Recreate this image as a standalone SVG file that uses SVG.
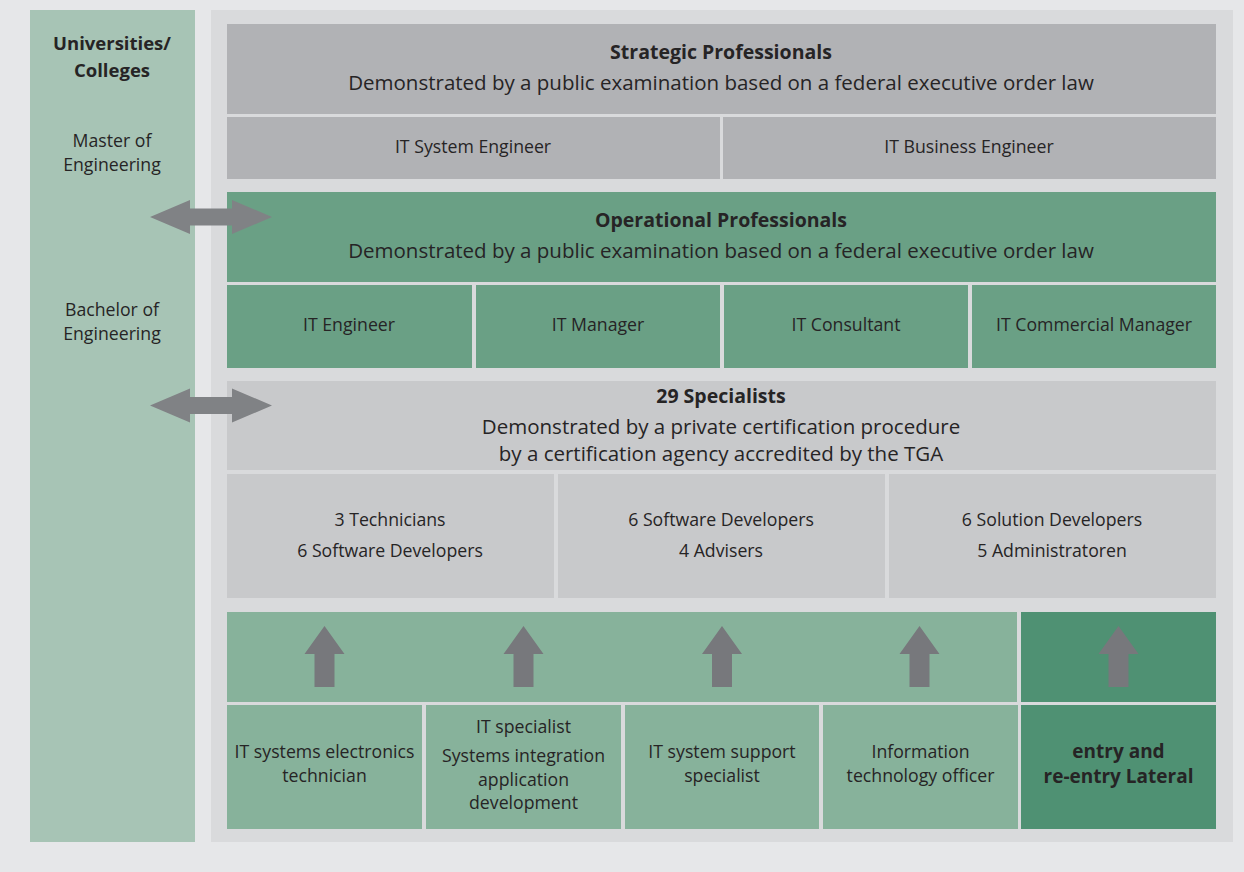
<svg xmlns="http://www.w3.org/2000/svg" width="1244" height="872" viewBox="0 0 1244 872">
  <style>
    .t { font-family: "Open Sans", "Noto Sans", "DejaVu Sans", sans-serif; fill: #262425; text-anchor: middle; }
    .h { font-size: 19.5px; font-weight: bold; }
    .d { font-size: 20.5px; }
    .s { font-size: 17.7px; }
    .b { font-size: 18.5px; font-weight: bold; }
    .bl { font-size: 19px; font-weight: bold; }
    .strat { fill: #b1b2b5; }
    .oper { fill: #6aa085; }
    .spec { fill: #c8c9cb; }
    .train { fill: #87b29b; }
    .lateral { fill: #4f9173; }
    .dbl { fill: #808285; }
    .up { fill: #77787c; }
  </style>
  <defs>
    <!-- upward arrow centred at x=0, tip at y=0 -->
    <path id="uparrow" d="M0,0 L20,28 L10,28 L10,61 L-10,61 L-10,28 L-20,28 Z"/>
    <!-- double horizontal arrow centred on y=0 -->
    <path id="dblarrow" d="M150,0 L190,-17 L190,-8.5 L232,-8.5 L232,-17 L272,0 L232,17 L232,8.5 L190,8.5 L190,17 Z"/>
  </defs>

  <!-- backgrounds -->
  <rect x="0" y="0" width="1244" height="872" fill="#e6e7e9"/>
  <rect x="211" y="10" width="1022" height="832" fill="#d9dadc"/>

  <!-- left column: universities -->
  <g id="universities">
    <rect x="30" y="10" width="165" height="832" fill="#a7c4b5"/>
    <text class="t b" x="112" y="50">Universities/</text>
    <text class="t b" x="112" y="77">Colleges</text>
    <text class="t s" x="112" y="147">Master of</text>
    <text class="t s" x="112" y="171">Engineering</text>
    <text class="t s" x="112" y="316">Bachelor of</text>
    <text class="t s" x="112" y="340">Engineering</text>
  </g>

  <!-- strategic professionals -->
  <g id="strategic">
    <rect class="strat" x="227" y="24" width="989" height="90"/>
    <text class="t h" x="721" y="59">Strategic Professionals</text>
    <text class="t d" x="721" y="90">Demonstrated by a public examination based on a federal executive order law</text>
  </g>
  <g id="it-system-engineer">
    <rect class="strat" x="227" y="117" width="493" height="62"/>
    <text class="t s" x="473" y="153">IT System Engineer</text>
  </g>
  <g id="it-business-engineer">
    <rect class="strat" x="723" y="117" width="493" height="62"/>
    <text class="t s" x="969" y="153">IT Business Engineer</text>
  </g>

  <!-- operational professionals -->
  <g id="operational">
    <rect class="oper" x="227" y="192" width="989" height="90"/>
    <text class="t h" x="721" y="227">Operational Professionals</text>
    <text class="t d" x="721" y="258">Demonstrated by a public examination based on a federal executive order law</text>
  </g>
  <g id="it-engineer">
    <rect class="oper" x="227" y="285" width="245" height="83"/>
    <text class="t s" x="349" y="331">IT Engineer</text>
  </g>
  <g id="it-manager">
    <rect class="oper" x="476" y="285" width="244" height="83"/>
    <text class="t s" x="598" y="331">IT Manager</text>
  </g>
  <g id="it-consultant">
    <rect class="oper" x="724" y="285" width="244" height="83"/>
    <text class="t s" x="846" y="331">IT Consultant</text>
  </g>
  <g id="it-commercial-manager">
    <rect class="oper" x="972" y="285" width="244" height="83"/>
    <text class="t s" x="1094" y="331">IT Commercial Manager</text>
  </g>

  <!-- specialists -->
  <g id="specialists">
    <rect class="spec" x="227" y="381" width="989" height="89"/>
    <text class="t h" x="721" y="403">29 Specialists</text>
    <text class="t d" x="721" y="434">Demonstrated by a private certification procedure</text>
    <text class="t d" x="721" y="461">by a certification agency accredited by the TGA</text>
  </g>
  <g id="spec-group-1">
    <rect class="spec" x="227" y="474" width="327" height="124"/>
    <text class="t s" x="390" y="526">3 Technicians</text>
    <text class="t s" x="390" y="557">6 Software Developers</text>
  </g>
  <g id="spec-group-2">
    <rect class="spec" x="558" y="474" width="327" height="124"/>
    <text class="t s" x="721" y="526">6 Software Developers</text>
    <text class="t s" x="721" y="557">4 Advisers</text>
  </g>
  <g id="spec-group-3">
    <rect class="spec" x="889" y="474" width="327" height="124"/>
    <text class="t s" x="1052" y="526">6 Solution Developers</text>
    <text class="t s" x="1052" y="557">5 Administratoren</text>
  </g>

  <!-- vocational training -->
  <g id="training-band">
    <rect class="train" x="227" y="612" width="790" height="90"/>
  </g>
  <g id="lateral-band">
    <rect class="lateral" x="1021" y="612" width="195" height="90"/>
  </g>
  <g id="it-systems-electronics-technician">
    <rect class="train" x="227" y="705" width="195" height="124"/>
    <text class="t s" x="324.5" y="758">IT systems electronics</text>
    <text class="t s" x="324.5" y="782">technician</text>
  </g>
  <g id="it-specialist">
    <rect class="train" x="426" y="705" width="195" height="124"/>
    <text class="t s" x="523.5" y="733">IT specialist</text>
    <text class="t s" x="523.5" y="762">Systems integration</text>
    <text class="t s" x="523.5" y="786">application</text>
    <text class="t s" x="523.5" y="809">development</text>
  </g>
  <g id="it-system-support-specialist">
    <rect class="train" x="625" y="705" width="194" height="124"/>
    <text class="t s" x="722" y="758">IT system support</text>
    <text class="t s" x="722" y="782">specialist</text>
  </g>
  <g id="information-technology-officer">
    <rect class="train" x="823" y="705" width="195" height="124"/>
    <text class="t s" x="920.5" y="758">Information</text>
    <text class="t s" x="920.5" y="782">technology officer</text>
  </g>
  <g id="lateral-entry">
    <rect class="lateral" x="1021" y="705" width="195" height="124"/>
    <text class="t bl" x="1118.5" y="758">entry and</text>
    <text class="t bl" x="1118.5" y="783">re-entry Lateral</text>
  </g>

  <!-- connectors -->
  <g id="connectors">
    <use href="#dblarrow" class="dbl" transform="translate(0,217)"/>
    <use href="#dblarrow" class="dbl" transform="translate(0,405.5)"/>
    <use href="#uparrow" class="up" transform="translate(324.5,626)"/>
    <use href="#uparrow" class="up" transform="translate(523.5,626)"/>
    <use href="#uparrow" class="up" transform="translate(722,626)"/>
    <use href="#uparrow" class="up" transform="translate(919.5,626)"/>
    <use href="#uparrow" class="up" transform="translate(1118.5,626)"/>
  </g>
</svg>
